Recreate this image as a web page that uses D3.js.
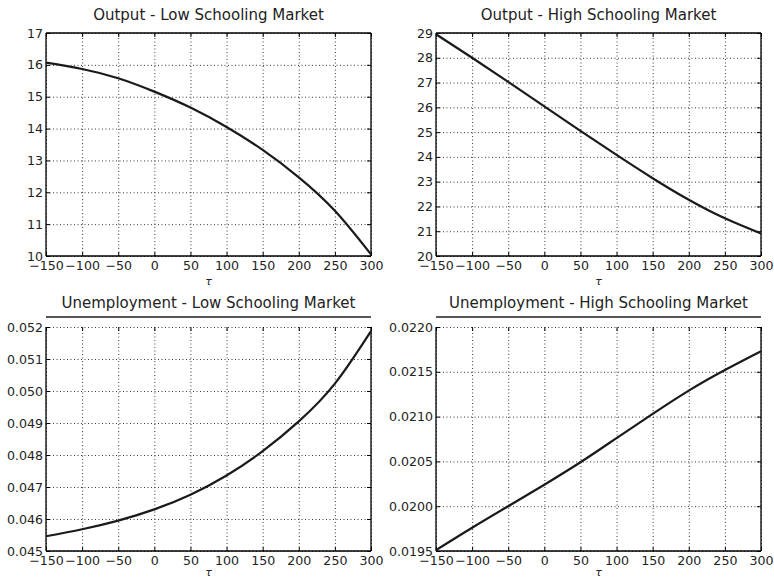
<!DOCTYPE html>
<html>
<head>
<meta charset="utf-8">
<script src="https://cdn.jsdelivr.net/npm/d3@7"></script>
<style>
  body { margin: 0; background: #fff; }
  text { font-family: "DejaVu Sans", sans-serif; fill: #222; }
  .grid line { stroke: #222; stroke-width: 0.9; stroke-dasharray: 1,2.5; }
  .grid path { display: none; }
  .axis path { display: none; }
  .axis line { stroke: #000; stroke-width: 1; }
  .axis text { font-size: 12.6px; }
</style>
</head>
<body>
<div id="graph"></div>
<script>
// data
const tau = [-150, -100, -50, 0, 50, 100, 150, 200, 250, 300];
const outputLow = [16.07, 15.87, 15.58, 15.16, 14.66, 14.05, 13.33, 12.47, 11.42, 10.05];
const outputHigh = [28.95, 28.00, 27.03, 26.04, 25.05, 24.08, 23.14, 22.27, 21.52, 20.91];
const unempLow = [0.04546, 0.04568, 0.04595, 0.04630, 0.04676, 0.04736, 0.04812, 0.04905, 0.05023, 0.05187];
const unempHigh = [0.01951, 0.01976, 0.02000, 0.02024, 0.02049, 0.02076, 0.02103, 0.02129, 0.02152, 0.02173];

const xTicks = [-150, -100, -50, 0, 50, 100, 150, 200, 250, 300];
const yTicksOutputLow = [10, 11, 12, 13, 14, 15, 16, 17];
const yTicksOutputHigh = [20, 21, 22, 23, 24, 25, 26, 27, 28, 29];
const yTicksUnempLow = [0.045, 0.046, 0.047, 0.048, 0.049, 0.050, 0.051, 0.052];
const yTicksUnempHigh = [0.0195, 0.0200, 0.0205, 0.0210, 0.0215, 0.0220];

const panels = [
  {title: 'Output - Low Schooling Market', values: outputLow, ticks: yTicksOutputLow, fmt: 'd',
   left: 46, right: 371, top: 33, bottom: 256, titleY: 19.5, tauY: 285, bar: false},
  {title: 'Output - High Schooling Market', values: outputHigh, ticks: yTicksOutputHigh, fmt: 'd',
   left: 436, right: 761, top: 33, bottom: 256, titleY: 19.5, tauY: 285, bar: false},
  {title: 'Unemployment - Low Schooling Market', values: unempLow, ticks: yTicksUnempLow, fmt: '.3f',
   left: 46, right: 371, top: 327, bottom: 551, titleY: 307.5, tauY: 576, bar: true},
  {title: 'Unemployment - High Schooling Market', values: unempHigh, ticks: yTicksUnempHigh, fmt: '.4f',
   left: 436, right: 761, top: 327, bottom: 551, titleY: 307.5, tauY: 576, bar: true}
];

const svg = d3.select('#graph').append('svg')
  .attr('width', 774)
  .attr('height', 578);

panels.forEach((p) => {
  const width = p.right - p.left;
  const height = p.bottom - p.top;

  const x = d3.scaleLinear().domain([-150, 300]).range([0, width]);
  const y = d3.scaleLinear().domain(d3.extent(p.ticks)).range([height, 0]);

  const g = svg.append('g')
    .attr('transform', 'translate(' + p.left + ',' + p.top + ')');

  // dotted grid
  g.append('g')
    .attr('class', 'grid')
    .attr('transform', 'translate(0,' + height + ')')
    .call(d3.axisBottom(x).tickValues(xTicks).tickSize(-height).tickFormat(''));
  g.append('g')
    .attr('class', 'grid')
    .call(d3.axisLeft(y).tickValues(p.ticks).tickSize(-width).tickFormat(''));

  // axes, ticks pointing inward
  g.append('g')
    .attr('class', 'axis')
    .attr('transform', 'translate(0,' + height + ')')
    .call(d3.axisBottom(x).tickValues(xTicks).tickSize(-4).tickPadding(5).tickFormat(d3.format('d')));
  g.append('g')
    .attr('class', 'axis')
    .call(d3.axisTop(x).tickValues(xTicks).tickSize(-4).tickFormat(''));
  g.append('g')
    .attr('class', 'axis')
    .call(d3.axisLeft(y).tickValues(p.ticks).tickSize(-4).tickPadding(3).tickFormat(d3.format(p.fmt)));
  g.append('g')
    .attr('class', 'axis')
    .attr('transform', 'translate(' + width + ',0)')
    .call(d3.axisRight(y).tickValues(p.ticks).tickSize(-4).tickFormat(''));

  // spines
  const spine = (x1, y1, x2, y2) => g.append('line')
    .attr('x1', x1).attr('y1', y1).attr('x2', x2).attr('y2', y2)
    .attr('stroke', '#000').attr('stroke-width', 1.3);
  spine(0, 0, 0, height);
  spine(width, 0, width, height);
  spine(0, height, width, height);
  if (p.bar) {
    // the top spine sits above the plot in the lower row
    g.append('line')
      .attr('x1', 0).attr('y1', -10).attr('x2', width).attr('y2', -10)
      .attr('stroke', '#555').attr('stroke-width', 2);
  } else {
    spine(0, 0, width, 0);
  }

  // curve
  const line = d3.line()
    .x((d, i) => x(tau[i]))
    .y(d => y(d))
    .curve(d3.curveNatural);
  g.append('path')
    .attr('d', line(p.values))
    .attr('fill', 'none')
    .attr('stroke', '#1a1a1a')
    .attr('stroke-width', 2.2);

  // title and x label
  svg.append('text')
    .attr('x', (p.left + p.right) / 2)
    .attr('y', p.titleY)
    .attr('text-anchor', 'middle')
    .style('font-size', '15px')
    .text(p.title);
  svg.append('text')
    .attr('x', (p.left + p.right) / 2)
    .attr('y', p.tauY)
    .attr('text-anchor', 'middle')
    .style('font-size', '11px')
    .style('font-style', 'italic')
    .text('τ');
});
</script>
</body>
</html>
